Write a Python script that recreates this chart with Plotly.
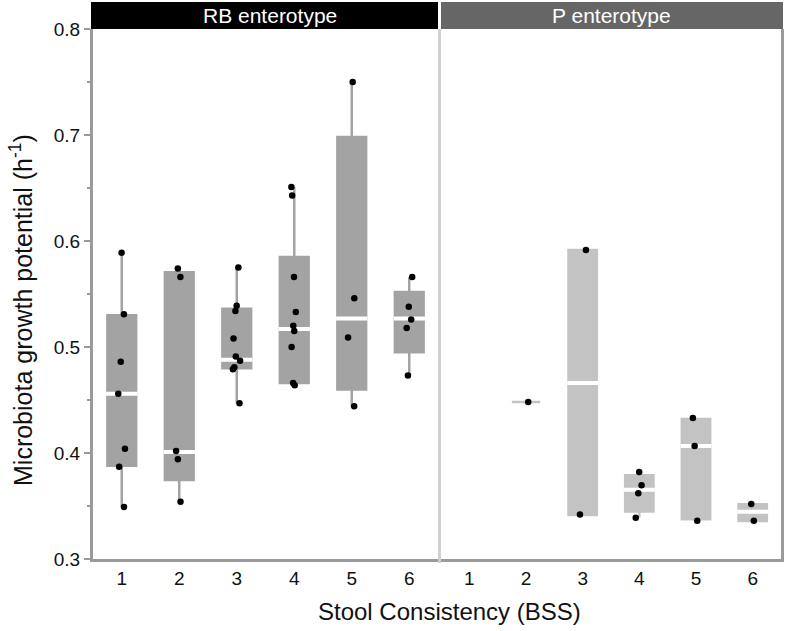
import plotly.graph_objects as go

# ---------------- data ----------------
bss = ["1", "2", "3", "4", "5", "6"]

# RB enterotype: individual samples per BSS category
rb_points = [
    [0.589, 0.531, 0.486, 0.456, 0.404, 0.387, 0.349],
    [0.574, 0.566, 0.402, 0.394, 0.354],
    [0.575, 0.539, 0.534, 0.508, 0.491, 0.487, 0.481, 0.479, 0.447],
    [0.651, 0.643, 0.566, 0.533, 0.520, 0.515, 0.500, 0.466, 0.464],
    [0.750, 0.546, 0.509, 0.444],
    [0.566, 0.538, 0.526, 0.518, 0.473],
]
rb_q1 = [0.388, 0.3745, 0.480, 0.466, 0.460, 0.495]
rb_med = [0.456, 0.401, 0.488, 0.517, 0.527, 0.527]
rb_q3 = [0.530, 0.5705, 0.536, 0.585, 0.698, 0.552]
rb_lo = [0.349, 0.354, 0.447, 0.464, 0.444, 0.473]
rb_hi = [0.589, 0.574, 0.575, 0.651, 0.749, 0.566]

# P enterotype
p_points = [
    [],
    [0.448],
    [0.5915, 0.342],
    [0.382, 0.3695, 0.362, 0.339],
    [0.433, 0.4066, 0.336],
    [0.352, 0.336],
]
p_q1 = [None, 0.448, 0.3415, 0.3447, 0.3375, 0.3358]
p_med = [None, 0.448, 0.466, 0.3654, 0.4066, 0.3445]
p_q3 = [None, 0.448, 0.5915, 0.379, 0.4321, 0.3516]
p_lo = [None, 0.448, 0.3415, 0.339, 0.3375, 0.3358]
p_hi = [None, 0.448, 0.5915, 0.3818, 0.4321, 0.3516]

panel_titles = ["RB enterotype", "P enterotype"]
x_title = "Stool Consistency (BSS)"
y_title = "Microbiota growth potential (h<sup>-1</sup>)"

# ---------------- styling ----------------
FONT = "Liberation Sans, Arial, Helvetica, sans-serif"
RB_FILL = "#a3a3a3"
P_FILL = "#c3c3c3"
AXIS_GRAY = "#9a9a9a"
SEP_GRAY = "#d0d0d0"
BOX_W = 0.5
BOX_LW = 2.5

fig = go.Figure()


def add_panel(points, q1, med, q3, lo, hi, fill, xa, ya):
    idx = [i for i in range(len(bss)) if q1[i] is not None]
    fig.add_trace(go.Box(
        x=[bss[i] for i in idx],
        q1=[q1[i] for i in idx], median=[med[i] for i in idx],
        q3=[q3[i] for i in idx],
        lowerfence=[lo[i] for i in idx], upperfence=[hi[i] for i in idx],
        fillcolor=fill, line=dict(color=fill, width=BOX_LW),
        whiskerwidth=0, width=BOX_W, boxpoints=False,
        xaxis=xa, yaxis=ya, hoverinfo="skip", showlegend=False,
    ))
    # white median bar (only where the box has a height)
    midx = [i for i in idx if q3[i] > q1[i]]
    fig.add_trace(go.Box(
        x=[bss[i] for i in midx],
        q1=[med[i] for i in midx], median=[med[i] for i in midx],
        q3=[med[i] for i in midx],
        lowerfence=[med[i] for i in midx], upperfence=[med[i] for i in midx],
        fillcolor="rgba(0,0,0,0)", line=dict(color="white", width=4),
        whiskerwidth=0, width=BOX_W + 0.045, boxpoints=False,
        xaxis=xa, yaxis=ya, hoverinfo="skip", showlegend=False,
    ))
    # jittered sample points
    px = [bss[i] for i in range(len(bss)) for _ in points[i]]
    py = [v for i in range(len(bss)) for v in points[i]]
    fig.add_trace(go.Box(
        x=px, y=py, boxpoints="all", jitter=0.3, pointpos=0,
        fillcolor="rgba(0,0,0,0)", line=dict(color="rgba(0,0,0,0)", width=0),
        marker=dict(color="black", size=6.5, line=dict(width=0)),
        width=BOX_W, xaxis=xa, yaxis=ya, showlegend=False,
    ))


add_panel(rb_points, rb_q1, rb_med, rb_q3, rb_lo, rb_hi, RB_FILL, "x", "y")
add_panel(p_points, p_q1, p_med, p_q3, p_lo, p_hi, P_FILL, "x2", "y2")

W, H = 788, 631
ML, MR, MT, MB = 93, 7, 29, 72
PW = W - ML - MR
PH = H - MT - MB

x1_end = (438 - ML) / PW
x2_start = (441 - ML) / PW
sep = (439.5 - ML) / PW

xaxis_common = dict(
    type="category", categoryorder="array", categoryarray=bss,
    range=[-0.5, 5.5], showgrid=False, zeroline=False,
    showline=True, linecolor=AXIS_GRAY, linewidth=3,
    ticks="", tickfont=dict(size=19, color="#111111", family=FONT),
    fixedrange=True,
)

fig.update_layout(
    width=W, height=H,
    margin=dict(l=ML, r=MR, t=MT, b=MB),
    paper_bgcolor="white", plot_bgcolor="white",
    boxmode="overlay", showlegend=False,
    font=dict(family=FONT, color="#111111"),
    xaxis=dict(domain=[0, x1_end], anchor="y", **xaxis_common),
    xaxis2=dict(domain=[x2_start, 1], anchor="y2", **xaxis_common),
    yaxis=dict(
        domain=[0, 1], anchor="x", range=[0.3, 0.8], dtick=0.1,
        tickformat=".1f", showgrid=False, zeroline=False,
        showline=True, linecolor=AXIS_GRAY, linewidth=3,
        ticks="outside", ticklen=6, tickwidth=2, tickcolor=AXIS_GRAY,
        minor=dict(dtick=0.05, ticks="outside", ticklen=3, tickwidth=2,
                   tickcolor=AXIS_GRAY, showgrid=False),
        tickfont=dict(size=19, color="#111111", family=FONT),
        fixedrange=True,
    ),
    yaxis2=dict(
        domain=[0, 1], anchor="x2", matches="y", range=[0.3, 0.8],
        showticklabels=False, ticks="", showgrid=False, zeroline=False,
        showline=True, side="right", linecolor=AXIS_GRAY, linewidth=3,
        fixedrange=True,
    ),
    shapes=[
        # facet strips
        dict(type="rect", xref="paper", yref="paper",
             x0=-2 / PW, x1=x1_end, y0=1.0, y1=1 + 27 / PH,
             fillcolor="black", line=dict(width=0)),
        dict(type="rect", xref="paper", yref="paper",
             x0=x2_start, x1=1 + 2 / PW, y0=1.0, y1=1 + 27 / PH,
             fillcolor="#666666", line=dict(width=0)),
        # separator between panels
        dict(type="line", xref="paper", yref="paper",
             x0=sep, x1=sep, y0=-4 / PH, y1=1.0,
             line=dict(color=SEP_GRAY, width=3)),
    ],
    annotations=[
        dict(text=panel_titles[0], xref="paper", yref="paper",
             x=(270 - ML) / PW, y=1 + 14 / PH, xanchor="center", yanchor="middle",
             showarrow=False, font=dict(size=21, color="white", family=FONT)),
        dict(text=panel_titles[1], xref="paper", yref="paper",
             x=(611 - ML) / PW, y=1 + 14 / PH, xanchor="center", yanchor="middle",
             showarrow=False, font=dict(size=21, color="white", family=FONT)),
        dict(text=x_title, xref="paper", yref="paper",
             x=(449 - ML) / PW, y=-(611 - (H - MB)) / PH,
             xanchor="center", yanchor="middle", showarrow=False,
             font=dict(size=24, color="#111111", family=FONT)),
        dict(text=y_title, xref="paper", yref="paper",
             x=(21 - ML) / PW, y=(H - MB - 310) / PH, textangle=-90,
             xanchor="center", yanchor="middle", showarrow=False,
             font=dict(size=25, color="#111111", family=FONT)),
    ],
)

fig.write_html(
    "out.html",
    config={"displayModeBar": False},
    post_script="document.body.style.margin='0';document.body.style.padding='0';",
)
